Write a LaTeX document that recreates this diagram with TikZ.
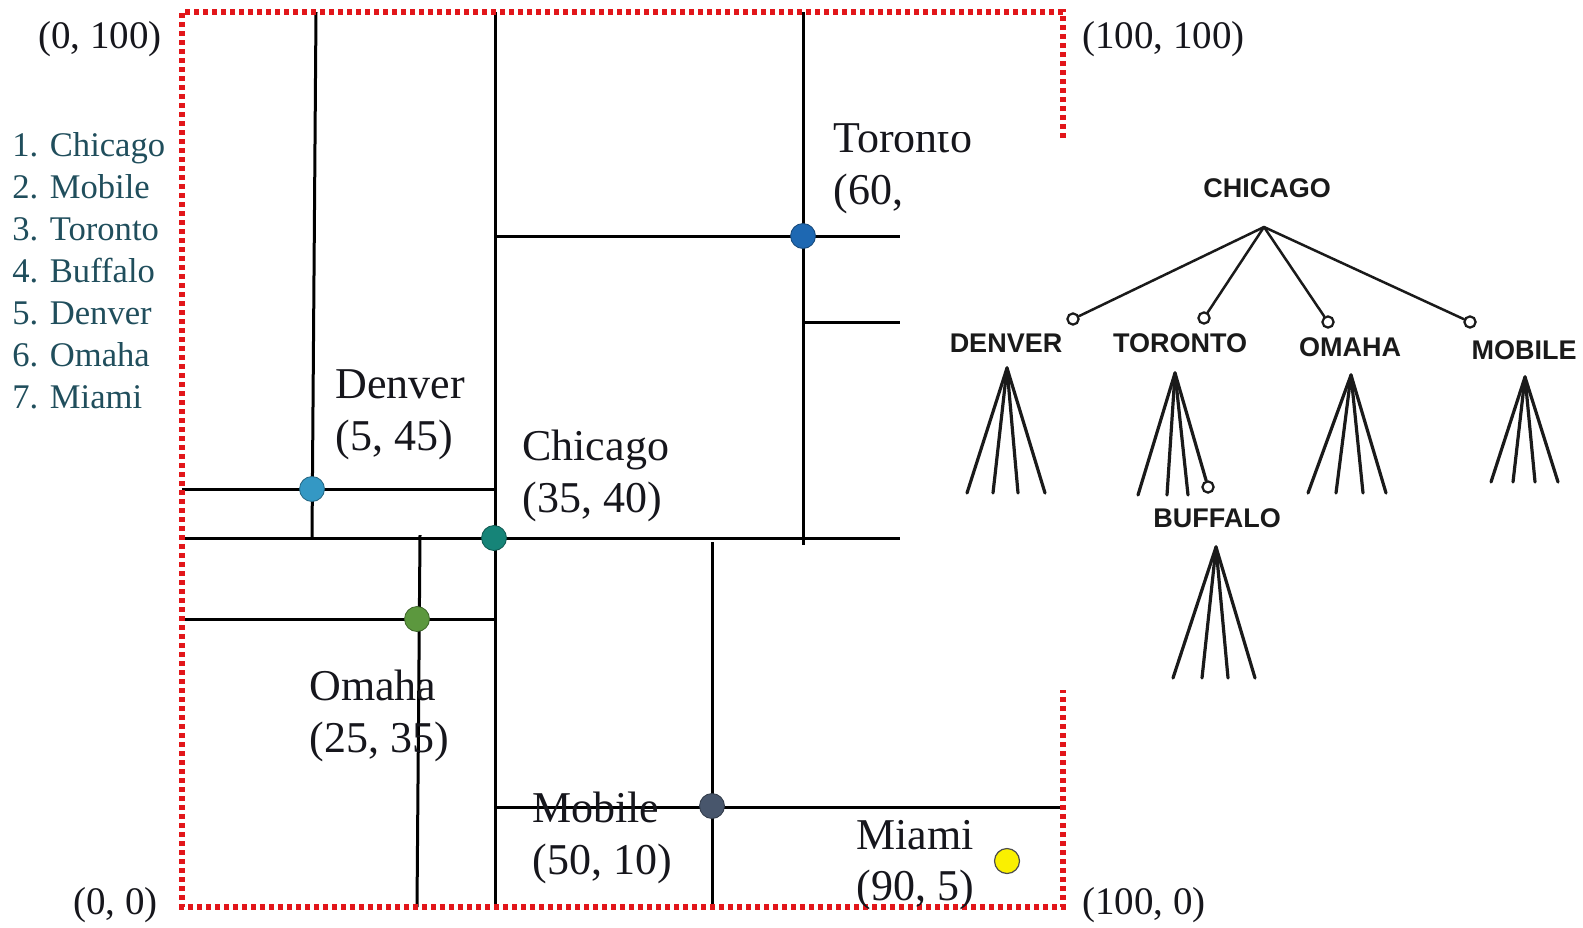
\documentclass[tikz,border=0pt]{standalone}
\usepackage{fontspec}
\setmainfont{Liberation Serif}
\newfontfamily\treefont{Liberation Sans}
\definecolor{borderred}{RGB}{226,22,26}
\definecolor{lbltext}{RGB}{22,22,28}
\definecolor{listteal}{RGB}{32,78,92}
\definecolor{treeink}{RGB}{26,26,26}
\definecolor{dotTor}{RGB}{30,104,178}
\definecolor{dotDen}{RGB}{52,152,196}
\definecolor{dotChi}{RGB}{22,132,120}
\definecolor{dotOma}{RGB}{92,152,62}
\definecolor{dotMob}{RGB}{72,86,108}
\definecolor{dotMia}{RGB}{250,240,0}
\begin{document}
\begin{tikzpicture}[x=0.5pt,y=-0.5pt,
  mapline/.style={line width=1.5pt, draw=black},
  border/.style={line width=2.6pt, draw=borderred, dash pattern=on 2.4pt off 2.1pt},
  citydot/.style={circle, inner sep=0pt, minimum size=12.5pt, draw=#1!65!black, line width=0.4pt, fill=#1},
  lbl/.style={font=\fontsize{22}{25.8}\selectfont, align=left, inner sep=0pt, text=lbltext, anchor=west},
  corner/.style={font=\fontsize{19.5}{24}\selectfont, inner sep=0pt, text=lbltext},
  tlbl/.style={font=\treefont\bfseries\fontsize{13.5}{16}\selectfont, inner sep=0pt, text=treeink},
  tline/.style={line width=1.25pt, draw=treeink, line cap=round},
  fanline/.style={line width=1.6pt, draw=treeink, line cap=round},
  knob/.style={circle, draw=treeink, line width=1.1pt, fill=white, inner sep=0pt, minimum size=5.6pt},
]
\useasboundingbox (0,0) rectangle (1583,927);

% ---------- map partition lines ----------
\draw[mapline] (316,12) -- (312,538);
\draw[mapline] (495,12) -- (495,907);
\draw[mapline] (803,12) -- (803,545);
\draw[mapline] (420,535) -- (417,907);
\draw[mapline] (712,542) -- (712,907);
\draw[mapline] (182,489) -- (495,489);
\draw[mapline] (182,538) -- (900,538);
\draw[mapline] (495,236) -- (900,236);
\draw[mapline] (803,322) -- (900,322);
\draw[mapline] (182,619) -- (495,619);
\draw[mapline] (495,807) -- (1063,807);

% ---------- dotted border ----------
\draw[border] (1063,138) -- (1063,12) -- (182,12) -- (182,907) -- (1063,907) -- (1063,690);

% ---------- city points ----------
\node[citydot=dotTor] (toronto) at (803,236) {};
\node[citydot=dotDen] (denver) at (312,489) {};
\node[citydot=dotChi] (chicago) at (494,538) {};
\node[citydot=dotOma] (omaha) at (417,619) {};
\node[citydot=dotMob] (mobile) at (712,806) {};
\node[circle, inner sep=0pt, minimum size=12.5pt, draw=black!70, line width=0.6pt, fill=dotMia] (miami) at (1007,861) {};

% ---------- city labels ----------
\node[lbl] (denverlbl) at (335,415) {Denver\\(5, 45)};
\node[lbl] (chicagolbl) at (522,476) {Chicago\\(35, 40)};
\node[lbl] (omahalbl) at (309,716) {Omaha\\(25, 35)};
\node[lbl] (mobilelbl) at (532,838) {Mobile\\(50, 10)};
\node[lbl] (miamilbl) at (856,865) {Miami\\(90, 5)};
\node[lbl] (torontolbl) at (833,169) {Toronto\\(60,};
\fill[white] (888,105) rectangle (1000,131.5);

% ---------- corner labels ----------
\node[corner, anchor=east] (c0100) at (162,39) {(0, 100)};
\node[corner, anchor=west] (c100100) at (1082,39) {(100, 100)};
\node[corner, anchor=east] (c00) at (158,905) {(0, 0)};
\node[corner, anchor=west] (c1000) at (1082,905) {(100, 0)};

% ---------- insertion order list ----------
\node[font=\fontsize{17.3}{21}\selectfont, text=listteal, align=left, inner sep=0pt, anchor=west] (order) at (12,271)
  {1. Chicago\\2. Mobile\\3. Toronto\\4. Buffalo\\5. Denver\\6. Omaha\\7. Miami};

% ---------- quadtree ----------
\node[tlbl] (tchi) at (1267,188) {CHICAGO};
\coordinate (chiapex) at (1264,227);
\node[knob] (kden) at (1073,319) {};
\node[knob] (ktor) at (1204,318) {};
\node[knob] (koma) at (1328,322) {};
\node[knob] (kmob) at (1470,322) {};
\draw[tline] (chiapex) -- (kden);
\draw[tline] (chiapex) -- (ktor);
\draw[tline] (chiapex) -- (koma);
\draw[tline] (chiapex) -- (kmob);

\node[tlbl] (tden) at (1006,343) {DENVER};
\node[tlbl] (ttor) at (1180,343) {TORONTO};
\node[tlbl] (toma) at (1350,347) {OMAHA};
\node[tlbl] (tmob) at (1524,350) {MOBILE};
\node[tlbl] (tbuf) at (1217,518) {BUFFALO};

% Denver fan
\coordinate (denapex) at (1007,368);
\foreach \fx [count=\i] in {967,993,1018,1045} {
  \coordinate (denfoot\i) at (\fx,493);
  \draw[fanline] (denapex) -- (denfoot\i);
}
% Toronto fan
\coordinate (torapex) at (1175,373);
\foreach \fx [count=\i] in {1138,1167,1188} {
  \coordinate (torfoot\i) at (\fx,495);
  \draw[fanline] (torapex) -- (torfoot\i);
}
\node[knob] (kbuf) at (1208,487) {};
\draw[fanline] (torapex) -- (kbuf);
% Omaha fan
\coordinate (omaapex) at (1351,375);
\foreach \fx [count=\i] in {1308,1336,1363,1386} {
  \coordinate (omafoot\i) at (\fx,493);
  \draw[fanline] (omaapex) -- (omafoot\i);
}
% Mobile fan
\coordinate (mobapex) at (1525,377);
\foreach \fx [count=\i] in {1491,1513,1535,1558} {
  \coordinate (mobfoot\i) at (\fx,482);
  \draw[fanline] (mobapex) -- (mobfoot\i);
}
% Buffalo fan
\coordinate (bufapex) at (1216,547);
\foreach \fx [count=\i] in {1173,1202,1228,1255} {
  \coordinate (buffoot\i) at (\fx,678);
  \draw[fanline] (bufapex) -- (buffoot\i);
}
\end{tikzpicture}
\end{document}
